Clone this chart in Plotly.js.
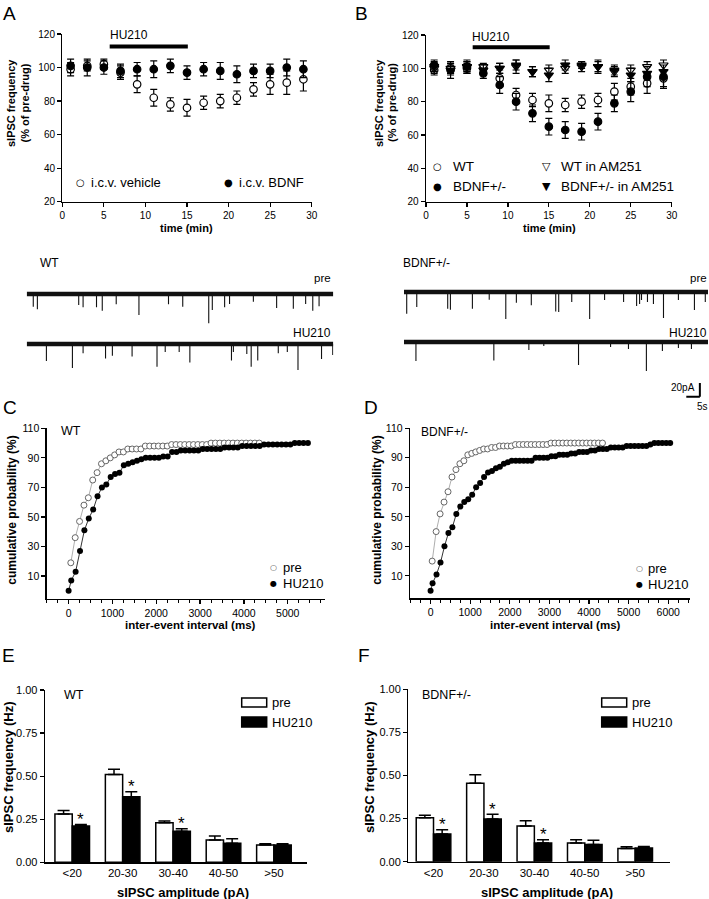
<!DOCTYPE html>
<html>
<head>
<meta charset="utf-8">
<script src="https://cdn.plot.ly/plotly-3.0.1.min.js"></script>
<style>
  html, body { margin: 0; padding: 0; background: #fff; }
  #fig { width: 709px; height: 899px; }
</style>
</head>
<body>
<div id="fig"></div>
<script>
// ---- A: time course, i.c.v. vehicle vs i.c.v. BDNF (% of pre-drug) ----
const timeMin = [1, 3, 5, 7, 9, 11, 13, 15, 17, 19, 21, 23, 25, 27, 29];
const aVehicle = [99, 101, 102, 97, 90, 82, 78, 76, 79, 80, 82, 87, 90, 91, 93];
const aVehicleErr = [4, 3, 3, 4, 5, 5, 4, 5, 4, 4, 4, 4, 6, 7, 7];
const aBdnf = [101, 100, 100, 98, 99, 99, 101, 97, 99, 98, 96, 98, 98, 100, 99];
const aBdnfErr = [4, 5, 4, 4, 4, 5, 4, 4, 4, 5, 5, 4, 4, 5, 5];

// ---- B: WT vs BDNF+/-, with and without AM251 ----
const bWt = [99, 100, 100, 100, 94, 84, 81, 79, 78, 80, 81, 86, 89, 91, 94];
const bWtErr = [3, 3, 3, 2, 5, 4, 4, 5, 4, 4, 4, 5, 5, 6, 5];
const bHet = [102, 99, 101, 97, 90, 80, 73, 65, 63, 62, 68, 79, 86, 95, 95];
const bHetErr = [3, 5, 4, 3, 5, 5, 5, 5, 5, 5, 5, 5, 6, 6, 7];
const bWtAm = [100, 100, 101, 101, 100, 101, 98, 99, 100, 101, 101, 98, 99, 101, 102];
const bWtAmErr = [3, 3, 3, 2, 3, 4, 3, 3, 3, 3, 4, 3, 3, 3, 3];
const bHetAm = [101, 99, 101, 99, 100, 102, 98, 96, 102, 102, 101, 99, 96, 97, 98];
const bHetAmErr = [3, 3, 3, 3, 3, 3, 3, 4, 3, 2, 3, 3, 4, 4, 4];

// HU210 application window (min)
const huStart = 5.7, huEnd = 15.1;

// ---- example recordings: event times (s) and amplitudes (pA) ----
const traceDur = 112;
const wtPreT = [2.4, 3.9, 19.0, 20.6, 25.5, 27.6, 32.7, 41.0, 51.8, 57.0, 66.5, 67.8, 72.3, 74.1, 82.8, 91.3, 97.4, 101.9, 104.5, 106.8];
const wtPreA = [18.5, 22.3, 16.1, 19.4, 19.4, 24.4, 15.0, 30.7, 15.0, 18.5, 42.8, 23.4, 19.4, 14.6, 11.2, 20.4, 21.5, 14.6, 24.4, 18.0];
const wtHuT = [7.2, 16.7, 20.6, 28.8, 31.3, 38.5, 47.6, 50.6, 55.7, 59.6, 74.8, 75.5, 80.4, 82.0, 84.4, 91.9, 95.2, 99.1, 107.7, 111.8];
const wtHuA = [24.8, 35.0, 13.7, 21.2, 17.2, 18.3, 33.1, 11.7, 11.7, 26.9, 24.1, 11.7, 14.6, 33.1, 24.1, 13.7, 11.7, 38.0, 21.9, 16.1];
const hetPreT = [1.0, 4.7, 16.1, 17.1, 25.2, 31.4, 37.5, 41.4, 46.9, 55.9, 57.0, 61.8, 68.4, 73.9, 80.9, 85.7, 86.8, 87.5, 89.7, 91.9, 95.6, 101.1, 107.0, 111.0];
const hetPreA = [31.7, 21.9, 24.4, 25.8, 24.4, 11.2, 39.4, 15.6, 19.4, 28.6, 29.2, 14.6, 39.4, 11.7, 14.6, 20.4, 17.5, 11.7, 14.6, 17.5, 38.0, 11.7, 26.3, 14.6];
const hetHuT = [4.4, 33.1, 46.0, 51.5, 64.3, 76.1, 82.7, 89.3, 95.2, 101.1, 105.9];
const hetHuA = [27.7, 27.0, 11.7, 5.8, 33.6, 7.3, 10.2, 42.3, 13.1, 8.8, 10.2];
const scaleS = 5, scalePA = 20;

// ---- C: cumulative probability, WT ----
const cPreX = [50, 150, 250, 350, 450, 550, 650, 750, 850, 950, 1050, 1150, 1250, 1350, 1450, 1550, 1650, 1750, 1850, 1950, 2050, 2150, 2250, 2350, 2450, 2550, 2650, 2750, 2850, 2950, 3050, 3150, 3250, 3350, 3450, 3550, 3650, 3750, 3850, 3950, 4050, 4150, 4250, 4350];
const cPreY = [19, 36, 47, 58, 63, 75, 80, 86, 88, 90, 92, 94, 94, 96, 96, 96, 96, 98, 98, 98, 98, 98, 98, 99, 99, 99, 99, 99, 99, 99, 99, 99, 100, 100, 100, 100, 100, 100, 100, 100, 100, 100, 100, 100];
const cHuX = [0, 60, 160, 260, 360, 460, 560, 660, 760, 860, 960, 1060, 1160, 1260, 1360, 1460, 1560, 1660, 1760, 1860, 1960, 2060, 2160, 2260, 2360, 2460, 2560, 2660, 2760, 2860, 2960, 3060, 3160, 3260, 3360, 3460, 3560, 3660, 3760, 3860, 3960, 4060, 4160, 4260, 4360, 4460, 4560, 4660, 4760, 4860, 4960, 5060, 5160, 5260, 5360, 5460];
const cHuY = [0, 7, 13, 27, 41, 49, 55, 64, 70, 72, 77, 79, 80, 85, 86, 87, 88, 89, 90, 90, 90, 90, 91, 91, 94, 94, 95, 95, 95, 95, 95, 96, 96, 96, 96, 96, 97, 97, 97, 97, 98, 98, 98, 98, 98, 99, 99, 99, 99, 99, 99, 99, 100, 100, 100, 100];

// ---- D: cumulative probability, BDNF+/- ----
const dPreX = [40, 140, 240, 340, 440, 540, 640, 740, 840, 940, 1040, 1140, 1240, 1340, 1440, 1540, 1640, 1740, 1840, 1940, 2040, 2140, 2240, 2340, 2440, 2540, 2640, 2740, 2840, 2940, 3040, 3140, 3240, 3340, 3440, 3540, 3640, 3740, 3840, 3940, 4040, 4140, 4240, 4340];
const dPreY = [20, 40, 52, 60, 67, 77, 82, 86, 88, 92, 93, 94, 95, 96, 96, 97, 97, 98, 98, 98, 98, 99, 99, 99, 99, 99, 99, 99, 99, 99, 100, 100, 100, 100, 100, 100, 100, 100, 100, 100, 100, 100, 100, 100];
const dHuX = [0, 50, 150, 250, 350, 450, 550, 650, 750, 850, 950, 1050, 1150, 1250, 1350, 1450, 1550, 1650, 1750, 1850, 1950, 2050, 2150, 2250, 2350, 2450, 2550, 2650, 2750, 2850, 2950, 3050, 3150, 3250, 3350, 3450, 3550, 3650, 3750, 3850, 3950, 4050, 4150, 4250, 4350, 4450, 4550, 4650, 4750, 4850, 4950, 5050, 5150, 5250, 5350, 5450, 5550, 5650, 5750, 5850, 5950, 6050];
const dHuY = [0, 5, 11, 19, 30, 39, 43, 52, 57, 60, 62, 65, 70, 73, 77, 80, 81, 83, 84, 86, 87, 88, 88, 88, 88, 88, 88, 90, 90, 90, 90, 91, 91, 92, 92, 92, 93, 93, 94, 94, 94, 95, 95, 96, 96, 96, 97, 97, 97, 97, 98, 98, 98, 98, 98, 98, 99, 100, 100, 100, 100, 100];

// ---- E/F: sIPSC frequency by amplitude bin (Hz) ----
const ampBins = ['<20', '20-30', '30-40', '40-50', '>50'];
const eWtPre = [0.28, 0.51, 0.23, 0.13, 0.10];
const eWtPreErr = [0.02, 0.03, 0.01, 0.023, 0.008];
const eWtHu = [0.21, 0.38, 0.18, 0.11, 0.10];
const eWtHuErr = [0.01, 0.03, 0.015, 0.027, 0.008];
const eSig = [true, true, true, false, false];
const fHetPre = [0.255, 0.455, 0.207, 0.108, 0.077];
const fHetPreErr = [0.014, 0.05, 0.03, 0.02, 0.01];
const fHetHu = [0.16, 0.248, 0.108, 0.10, 0.08];
const fHetHuErr = [0.025, 0.027, 0.02, 0.025, 0.008];
const fSig = [true, true, true, false, false];

// ================= helpers =================
const W = 709, H = 899;
const FONT = 'Liberation Sans, Arial, Helvetica, sans-serif';
const SYM = 'DejaVu Sans, sans-serif';
const fx = p => p / W;
const fy = p => 1 - p / H;
const dom = (a, b) => [fx(a), fx(b)];
const vdom = (top, bottom) => [fy(bottom), fy(top)];

function ann(text, x, y, size, o = {}) {
    return {
        text, x: fx(x), y: fy(y), xref: 'paper', yref: 'paper',
        showarrow: false,
        xanchor: o.anchor || 'center', yanchor: 'middle',
        textangle: o.angle || 0,
        font: { family: o.family || FONT, size, color: o.color || '#000' }
    };
}

function axBase(extra) {
    return Object.assign({
        showline: true, linecolor: '#000', linewidth: 1.3,
        ticks: 'outside', ticklen: 4, tickwidth: 1.2, tickcolor: '#000',
        showgrid: false, zeroline: false, fixedrange: true,
        tickfont: { family: FONT, size: 10, color: '#000' }
    }, extra);
}

function errScatter(x, y, err, symbol, fill, xa, ya, size) {
    return {
        type: 'scatter', mode: 'markers', x, y, xaxis: xa, yaxis: ya,
        marker: { symbol, size: size || 7.5, color: fill, line: { color: '#000', width: 1.2 } },
        error_y: { type: 'data', array: err, visible: true, color: '#000', thickness: 1.2, width: 3.5 },
        cliponaxis: false, hoverinfo: 'skip'
    };
}

function recording(t, amp, xa, ya) {
    const xs = [], ys = [];
    t.forEach((ti, i) => { xs.push(ti, ti, null); ys.push(0, -amp[i], null); });
    return [
        { type: 'scatter', mode: 'lines', x: [0, traceDur], y: [0, 0], xaxis: xa, yaxis: ya,
          line: { color: '#111', width: 4.5 }, hoverinfo: 'skip' },
        { type: 'scatter', mode: 'lines', x: xs, y: ys, xaxis: xa, yaxis: ya,
          line: { color: '#111', width: 1.1 }, connectgaps: false, hoverinfo: 'skip' }
    ];
}

function cumul(x, y, filled, xa, ya) {
    return {
        type: 'scatter', mode: 'lines+markers', x, y, xaxis: xa, yaxis: ya,
        line: { color: filled ? '#000' : '#999', width: 0.8 },
        marker: filled
            ? { symbol: 'circle', size: 6, color: '#000' }
            : { symbol: 'circle', size: 6, color: '#fff', line: { color: '#666', width: 1 } },
        cliponaxis: false, hoverinfo: 'skip'
    };
}

const BARW = 0.343;
function bars(pre, preErr, hu, huErr, xa, ya) {
    const zeros = pre.map(() => 0);
    return [
        { type: 'bar', x: ampBins, y: pre, xaxis: xa, yaxis: ya, width: BARW, offset: -BARW,
          marker: { color: '#fff', line: { color: '#000', width: 1.5 } },
          error_y: { type: 'data', array: preErr, arrayminus: zeros, symmetric: false, color: '#000', thickness: 1.5, width: 6 },
          hoverinfo: 'skip' },
        { type: 'bar', x: ampBins, y: hu, xaxis: xa, yaxis: ya, width: BARW, offset: 0,
          marker: { color: '#000', line: { color: '#000', width: 1.5 } },
          error_y: { type: 'data', array: huErr, arrayminus: zeros, symmetric: false, color: '#000', thickness: 1.5, width: 6 },
          hoverinfo: 'skip' }
    ];
}

function stars(hu, huErr, sig, xa, ya) {
    const out = [];
    sig.forEach((s, i) => {
        if (!s) return;
        out.push({ text: '*', x: i + BARW / 2, y: hu[i] + huErr[i], xref: xa, yref: ya,
                   showarrow: false, yanchor: 'middle', yshift: 5,
                   font: { family: FONT, size: 17, color: '#000' } });
    });
    return out;
}

// ================= traces =================
const data = [
    errScatter(timeMin, aVehicle, aVehicleErr, 'circle', '#fff', 'x', 'y'),
    errScatter(timeMin, aBdnf, aBdnfErr, 'circle', '#000', 'x', 'y'),
    errScatter(timeMin, bWt, bWtErr, 'circle', '#fff', 'x2', 'y2'),
    errScatter(timeMin, bHet, bHetErr, 'circle', '#000', 'x2', 'y2'),
    errScatter(timeMin, bWtAm, bWtAmErr, 'triangle-down', '#fff', 'x2', 'y2', 8),
    errScatter(timeMin, bHetAm, bHetAmErr, 'triangle-down', '#000', 'x2', 'y2', 8),
    ...recording(wtPreT, wtPreA, 'x3', 'y3'),
    ...recording(wtHuT, wtHuA, 'x4', 'y4'),
    ...recording(hetPreT, hetPreA, 'x5', 'y5'),
    ...recording(hetHuT, hetHuA, 'x6', 'y6'),
    cumul(cPreX, cPreY, false, 'x7', 'y7'),
    cumul(cHuX, cHuY, true, 'x7', 'y7'),
    cumul(dPreX, dPreY, false, 'x8', 'y8'),
    cumul(dHuX, dHuY, true, 'x8', 'y8'),
    ...bars(eWtPre, eWtPreErr, eWtHu, eWtHuErr, 'x9', 'y9'),
    ...bars(fHetPre, fHetPreErr, fHetHu, fHetHuErr, 'x10', 'y10')
];

// ================= layout =================
const hidden = (domain, range, anchor) => ({ domain, range, anchor, visible: false, fixedrange: true });
const minorX = { dtick: 250, tick0: 0, ticks: 'outside', ticklen: 3, tickwidth: 1, tickcolor: '#000' };
const cumTicks = [10, 30, 50, 70, 90, 110];

const layout = {
    width: W, height: H,
    margin: { l: 0, r: 0, t: 0, b: 0 },
    paper_bgcolor: '#fff', plot_bgcolor: 'rgba(0,0,0,0)',
    showlegend: false,
    barmode: 'overlay',

    xaxis: axBase({ domain: dom(62.3, 311.7), range: [0, 30], tick0: 0, dtick: 5, anchor: 'y' }),
    yaxis: axBase({ domain: vdom(34, 201.7), range: [20, 120], tick0: 20, dtick: 20, anchor: 'x' }),
    xaxis2: axBase({ domain: dom(426, 671.7), range: [0, 30], tick0: 0, dtick: 5, anchor: 'y2' }),
    yaxis2: axBase({ domain: vdom(35, 201.7), range: [20, 120], tick0: 20, dtick: 20, anchor: 'x2' }),

    xaxis3: hidden(dom(26.7, 333.3), [0, traceDur], 'y3'),
    yaxis3: hidden(vdom(288.5, 324.8), [-45, 8], 'x3'),
    xaxis4: hidden(dom(26.7, 333.3), [0, traceDur], 'y4'),
    yaxis4: hidden(vdom(338.5, 374.8), [-45, 8], 'x4'),
    xaxis5: hidden(dom(404, 708), [0, traceDur], 'y5'),
    yaxis5: hidden(vdom(286.5, 322.8), [-45, 8], 'x5'),
    xaxis6: hidden(dom(404, 708), [0, traceDur], 'y6'),
    yaxis6: hidden(vdom(336.5, 417.3), [-110, 8], 'x6'),

    xaxis7: axBase({ domain: dom(46.7, 325), range: [-500, 5850], tick0: 0, dtick: 1000, anchor: 'y7',
                     minor: minorX, tickfont: { family: FONT, size: 10.5, color: '#000' } }),
    yaxis7: axBase({ domain: vdom(428.3, 599), range: [-5.5, 110], tickvals: cumTicks, anchor: 'x7',
                     tickfont: { family: FONT, size: 10.5, color: '#000' } }),
    xaxis8: axBase({ domain: dom(410, 690), range: [-520, 6550], tick0: 0, dtick: 1000, anchor: 'y8',
                     minor: minorX, tickfont: { family: FONT, size: 10.5, color: '#000' } }),
    yaxis8: axBase({ domain: vdom(428.3, 598.3), range: [-5.2, 110], tickvals: cumTicks, anchor: 'x8',
                     tickfont: { family: FONT, size: 10.5, color: '#000' } }),

    xaxis9: axBase({ domain: dom(45, 306.7), type: 'category', range: [-0.54, 4.65], ticks: '', anchor: 'y9',
                     tickfont: { family: FONT, size: 11.5, color: '#000' } }),
    yaxis9: axBase({ domain: vdom(690, 862.3), range: [0, 1], tickvals: [0, 0.25, 0.5, 0.75, 1], tickformat: '.2f',
                     anchor: 'x9', tickfont: { family: FONT, size: 11, color: '#000' } }),
    xaxis10: axBase({ domain: dom(408.3, 670), type: 'category', range: [-0.5, 4.69], ticks: '', anchor: 'y10',
                      tickfont: { family: FONT, size: 11.5, color: '#000' } }),
    yaxis10: axBase({ domain: vdom(689.3, 861.7), range: [0, 1], tickvals: [0, 0.25, 0.5, 0.75, 1], tickformat: '.2f',
                      anchor: 'x10', tickfont: { family: FONT, size: 11, color: '#000' } }),

    shapes: [
        // HU210 application bars
        { type: 'line', xref: 'x', yref: 'y', x0: huStart, x1: huEnd, y0: 112.5, y1: 112.5, line: { color: '#000', width: 4 } },
        { type: 'line', xref: 'x2', yref: 'y2', x0: huStart, x1: huEnd, y0: 112.6, y1: 112.6, line: { color: '#000', width: 4 } },
        // scale bar
        { type: 'line', xref: 'x6', yref: 'y6', x0: 109, x1: 109, y0: -80, y1: -80 + scalePA, line: { color: '#000', width: 2 } },
        { type: 'line', xref: 'x6', yref: 'y6', x0: 109 - scaleS, x1: 109, y0: -80, y1: -80, line: { color: '#000', width: 2 } },
        // E / F legend swatches
        { type: 'rect', xref: 'paper', yref: 'paper', x0: fx(241.7), x1: fx(266.7), y0: fy(707), y1: fy(698), fillcolor: '#fff', line: { color: '#000', width: 1.5 } },
        { type: 'rect', xref: 'paper', yref: 'paper', x0: fx(241.7), x1: fx(266.7), y0: fy(727), y1: fy(717), fillcolor: '#000', line: { color: '#000', width: 1.5 } },
        { type: 'rect', xref: 'paper', yref: 'paper', x0: fx(601.7), x1: fx(626.7), y0: fy(707), y1: fy(698), fillcolor: '#fff', line: { color: '#000', width: 1.5 } },
        { type: 'rect', xref: 'paper', yref: 'paper', x0: fx(601.7), x1: fx(626.7), y0: fy(727), y1: fy(717), fillcolor: '#000', line: { color: '#000', width: 1.5 } }
    ],

    annotations: [
        // panel letters
        ann('A', 9.5, 13.5, 19), ann('B', 361, 13.5, 19),
        ann('C', 9.5, 407, 19), ann('D', 371, 407, 19),
        ann('E', 8.5, 655, 19), ann('F', 364, 655, 19),

        // A
        ann('<b>sIPSC frequency</b>', 11, 103, 11, { angle: -90 }),
        ann('<b>(% of pre-drug)</b>', 24.5, 103, 11, { angle: -90 }),
        ann('<b>time (min)</b>', 187, 228, 11),
        ann('HU210', 108.3, 35, 12, { anchor: 'left' }),
        ann('○', 80, 182.7, 10, { family: SYM }),
        ann('i.c.v. vehicle', 89.3, 182.7, 13, { anchor: 'left' }),
        ann('●', 228.3, 182.7, 10, { family: SYM }),
        ann('i.c.v. BDNF', 237.3, 182.7, 13, { anchor: 'left' }),

        // B
        ann('<b>sIPSC frequency</b>', 379, 103, 11, { angle: -90 }),
        ann('<b>(% of pre-drug)</b>', 392, 103, 11, { angle: -90 }),
        ann('<b>time (min)</b>', 549, 228, 11),
        ann('HU210', 470, 36.7, 12, { anchor: 'left' }),
        ann('○', 437.3, 166.7, 10, { family: SYM }),
        ann('WT', 450.7, 166.7, 13.5, { anchor: 'left' }),
        ann('●', 437.3, 186.7, 10, { family: SYM }),
        ann('BDNF+/-', 450.7, 186.7, 13.5, { anchor: 'left' }),
        ann('▽', 546.7, 166.7, 11, { family: SYM }),
        ann('WT in AM251', 559.3, 166.7, 13.5, { anchor: 'left' }),
        ann('▼', 546.7, 186.7, 11, { family: SYM }),
        ann('BDNF+/- in AM251', 559.3, 186.7, 13.5, { anchor: 'left' }),

        // recordings
        ann('WT', 49.5, 263, 12),
        ann('pre', 333.3, 278, 11.5, { anchor: 'right' }),
        ann('HU210', 333.3, 333, 12, { anchor: 'right' }),
        ann('BDNF+/-', 427, 263, 12),
        ann('pre', 709, 278, 11.5, { anchor: 'right' }),
        ann('HU210', 709, 333, 12, { anchor: 'right' }),
        ann('20pA', 697, 387, 10, { anchor: 'right' }),
        ann('5s', 702, 406, 10),

        // C / D
        ann('WT', 71, 431, 12.5),
        ann('BDNF+/-', 444, 432, 12),
        ann('<b>cumulative probability (%)</b>', 11.7, 510, 12, { angle: -90 }),
        ann('<b>cumulative probability (%)</b>', 376.7, 510, 12, { angle: -90 }),
        ann('<b>inter-event interval (ms)</b>', 190, 625, 11.5),
        ann('<b>inter-event interval (ms)</b>', 555, 625, 11.5),
        ann('○', 273.3, 567.3, 8, { family: SYM, color: '#555' }),
        ann('pre', 281, 567.3, 13, { anchor: 'left' }),
        ann('●', 273.3, 583.3, 8, { family: SYM }),
        ann('HU210', 281, 583.3, 13, { anchor: 'left' }),
        ann('○', 639, 568.3, 8, { family: SYM, color: '#555' }),
        ann('pre', 646, 568.3, 13, { anchor: 'left' }),
        ann('●', 639, 584, 8, { family: SYM }),
        ann('HU210', 646, 584, 13, { anchor: 'left' }),

        // E / F
        ann('WT', 74, 695, 12.5),
        ann('BDNF+/-', 446.5, 695, 12.5),
        ann('pre', 270, 702.5, 13, { anchor: 'left' }),
        ann('HU210', 270, 722, 13, { anchor: 'left' }),
        ann('pre', 630, 702.5, 13, { anchor: 'left' }),
        ann('HU210', 630, 722, 13, { anchor: 'left' }),
        ann('<b>sIPSC frequency (Hz)</b>', 8, 768, 13, { angle: -90 }),
        ann('<b>sIPSC frequency (Hz)</b>', 369, 768, 13, { angle: -90 }),
        ann('<b>sIPSC amplitude (pA)</b>', 182.5, 892, 13),
        ann('<b>sIPSC amplitude (pA)</b>', 546.7, 892, 13),

        ...stars(eWtHu, eWtHuErr, eSig, 'x9', 'y9'),
        ...stars(fHetHu, fHetHuErr, fSig, 'x10', 'y10')
    ]
};

Plotly.newPlot('fig', data, layout, { staticPlot: true, displayModeBar: false });
</script>
</body>
</html>
